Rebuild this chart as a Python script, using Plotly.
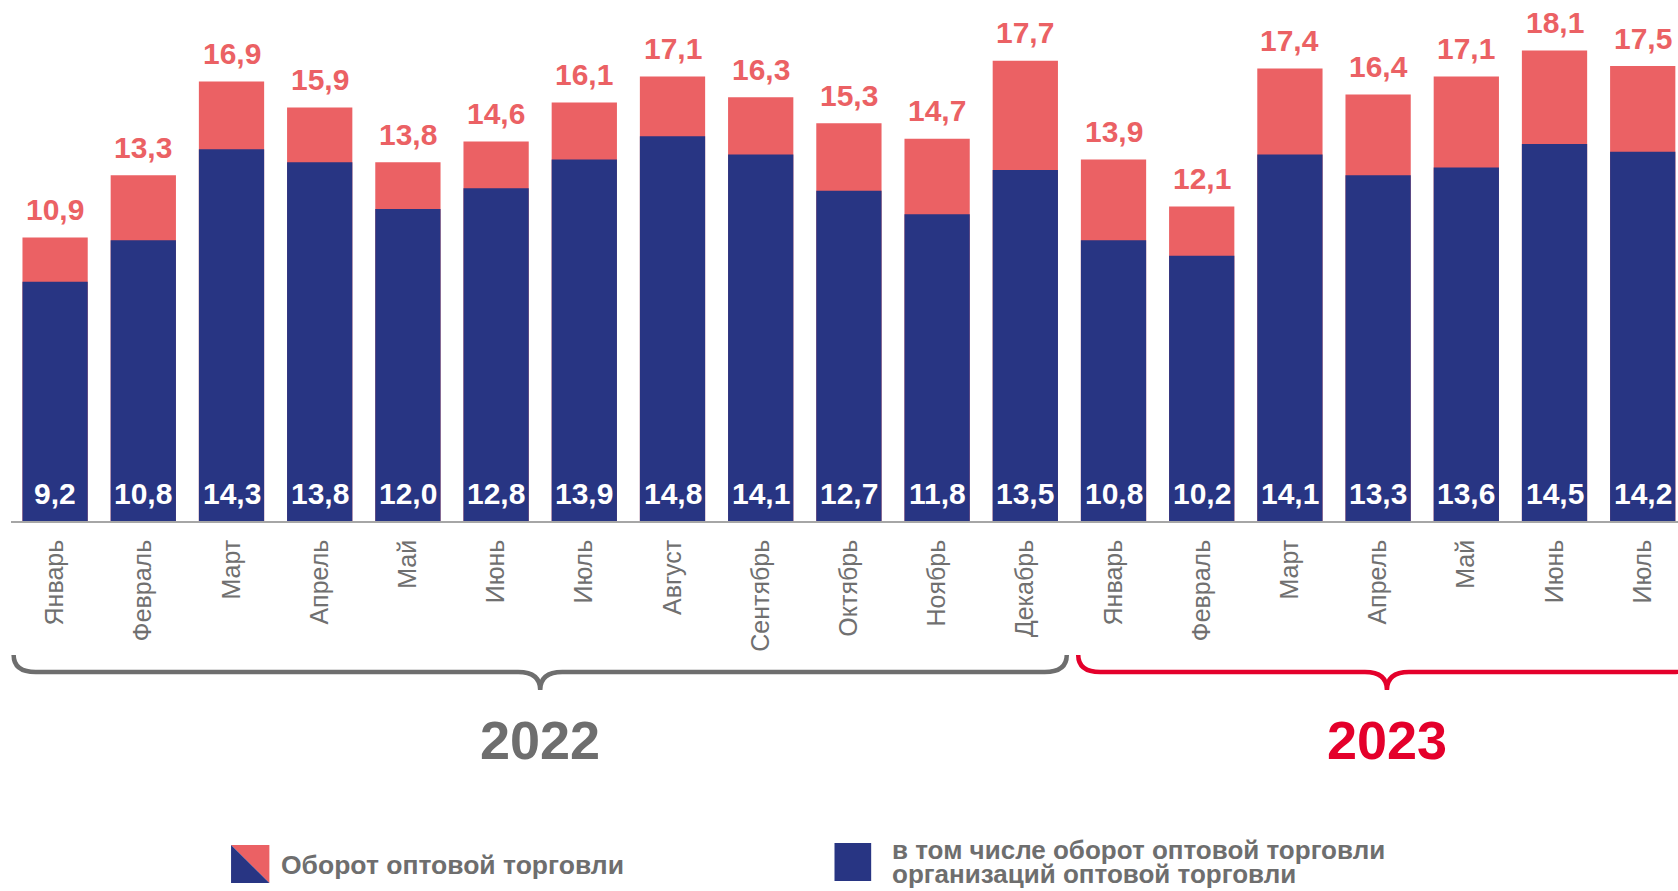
import plotly.graph_objects as go

months = ["Январь", "Февраль", "Март", "Апрель", "Май", "Июнь", "Июль", "Август",
          "Сентябрь", "Октябрь", "Ноябрь", "Декабрь",
          "Январь", "Февраль", "Март", "Апрель", "Май", "Июнь", "Июль"]
total = [10.9, 13.3, 16.9, 15.9, 13.8, 14.6, 16.1, 17.1, 16.3, 15.3, 14.7, 17.7,
         13.9, 12.1, 17.4, 16.4, 17.1, 18.1, 17.5]
orgs = [9.2, 10.8, 14.3, 13.8, 12.0, 12.8, 13.9, 14.8, 14.1, 12.7, 11.8, 13.5,
        10.8, 10.2, 14.1, 13.3, 13.6, 14.5, 14.2]
years = ["2022", "2023"]
year_first = [0, 12]
year_last = [11, 18]
year_colors = ["#6E6E6E", "#E4002B"]
series_names = ["Оборот оптовой торговли",
                "в том числе оборот оптовой торговли<br>организаций оптовой торговли"]

RED = "#EB6164"
BLUE = "#283583"
GRAY = "#6E6E6E"
FONT = "Liberation Sans, Arial, sans-serif"

x = list(range(len(months)))

def fmt(v):
    return f"{v:.1f}".replace(".", ",")

fig = go.Figure()
fig.add_trace(go.Bar(x=x, y=total, marker=dict(color=RED, line=dict(width=0)),
                     width=0.74, name=series_names[0], hoverinfo="y"))
fig.add_trace(go.Bar(x=x, y=orgs, marker=dict(color=BLUE, line=dict(width=0)),
                     width=0.74, name=series_names[1], hoverinfo="y"))

annotations = []
for i, (t, o) in enumerate(zip(total, orgs)):
    annotations.append(dict(x=i, y=t, text=f"<b>{fmt(t)}</b>", showarrow=False,
                            yanchor="middle", yshift=28,
                            font=dict(family=FONT, size=30, color=RED)))
    annotations.append(dict(x=i, y=0, text=f"<b>{fmt(o)}</b>", showarrow=False,
                            yanchor="middle", yshift=28,
                            font=dict(family=FONT, size=30, color="white")))

PLOT_H = 521.0
def py(px):
    return 1 - px / PLOT_H

shapes = []
pads = [(-0.47, 0.47), (-0.4, 0.6)]
r = 0.25
ytop, ymid, ytip = py(655), py(672), py(690)
for k, yr in enumerate(years):
    x0 = year_first[k] + pads[k][0]
    x1 = year_last[k] + pads[k][1]
    xc = (x0 + x1) / 2
    path = (f"M {x0},{ytop} Q {x0},{ymid} {x0 + r},{ymid} "
            f"L {xc - r},{ymid} Q {xc},{ymid} {xc},{ytip} "
            f"Q {xc},{ymid} {xc + r},{ymid} "
            f"L {x1 - r},{ymid} Q {x1},{ymid} {x1},{ytop}")
    shapes.append(dict(type="path", path=path, xref="x", yref="paper",
                       line=dict(color=year_colors[k], width=4.5)))
    annotations.append(dict(x=xc, y=py(740), xref="x", yref="paper",
                            text=f"<b>{yr}</b>", showarrow=False,
                            yanchor="middle", xanchor="center",
                            font=dict(family=FONT, size=54, color=year_colors[k])))

# legend (manual)
lx0, lx1 = 0.132, 0.155
ly0, ly1 = py(845), py(883)
shapes.append(dict(type="path", xref="paper", yref="paper",
                   path=f"M {lx0},{ly0} L {lx1},{ly0} L {lx1},{ly1} Z",
                   fillcolor=RED, line=dict(width=0)))
shapes.append(dict(type="path", xref="paper", yref="paper",
                   path=f"M {lx0},{ly0} L {lx0},{ly1} L {lx1},{ly1} Z",
                   fillcolor=BLUE, line=dict(width=0)))
annotations.append(dict(x=0.161, y=py(865), xref="paper", yref="paper",
                        text=f"<b>{series_names[0]}</b>", showarrow=False,
                        xanchor="left", yanchor="middle", align="left",
                        font=dict(family=FONT, size=26.5, color=GRAY)))
shapes.append(dict(type="rect", xref="paper", yref="paper",
                   x0=0.494, x1=0.516, y0=py(843), y1=py(881),
                   fillcolor=BLUE, line=dict(width=0)))
for line_text, ypx in zip(series_names[1].split("<br>"), [850, 874]):
    annotations.append(dict(x=0.528, y=py(ypx), xref="paper", yref="paper",
                            text=f"<b>{line_text}</b>", showarrow=False,
                            xanchor="left", yanchor="middle", align="left",
                            borderpad=0,
                            font=dict(family=FONT, size=26, color=GRAY)))

fig.update_layout(
    width=1678, height=891,
    margin=dict(l=11, r=0, t=0, b=370),
    barmode="overlay",
    bargap=0.26,
    showlegend=False,
    plot_bgcolor="white", paper_bgcolor="white",
    annotations=annotations, shapes=shapes,
    xaxis=dict(range=[-0.5, 18.4], tickvals=x, ticktext=months, tickangle=-90,
               showgrid=False, zeroline=False, showline=True,
               linecolor="#A6A6A6", linewidth=1.5, ticks="",
               ticklabelstandoff=7,
               tickfont=dict(family=FONT, size=25, color="#707070")),
    yaxis=dict(range=[0, PLOT_H / 26.0], visible=False, showgrid=False),
)

fig.write_html("out.html", config={"displayModeBar": False},
               post_script="document.body.style.margin='0';document.body.style.overflow='hidden';")
